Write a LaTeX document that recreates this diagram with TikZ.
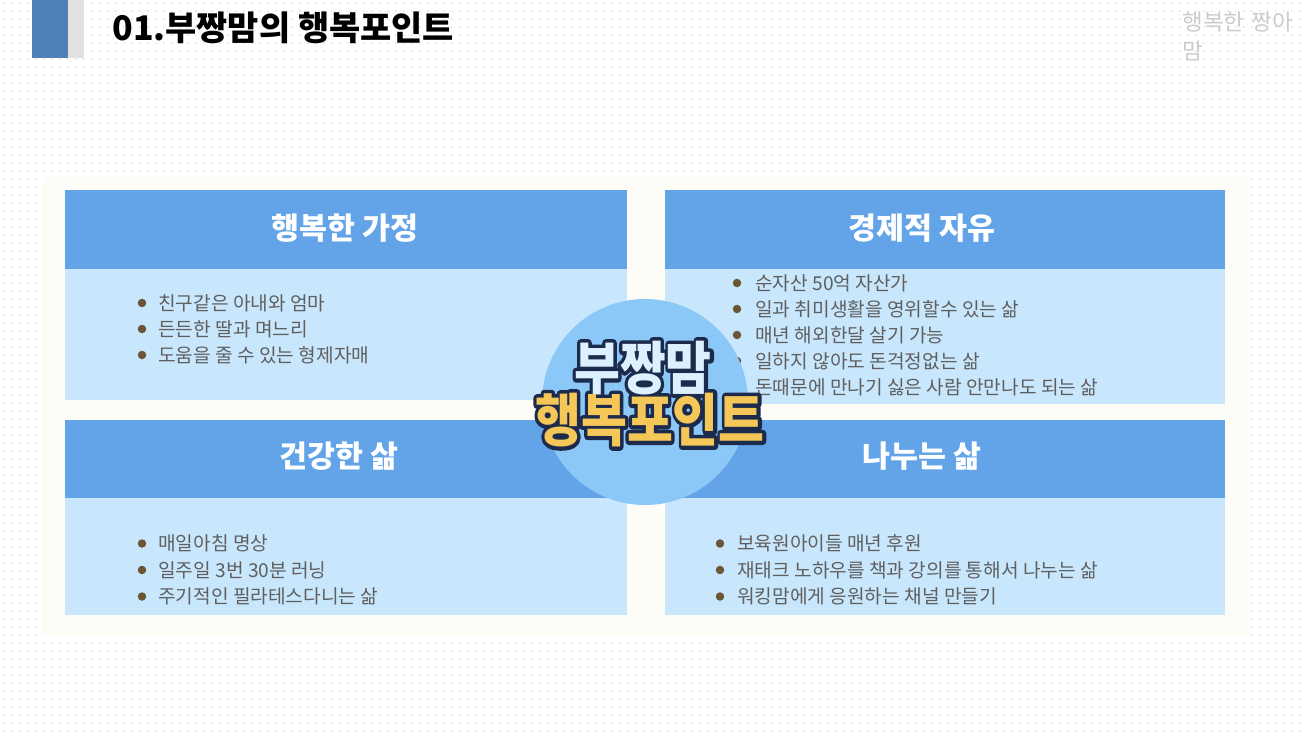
\documentclass[tikz,border=0pt]{standalone}
\usepackage{fontspec}
\setmainfont{Noto Sans CJK KR}
\usetikzlibrary{patterns.meta}

\definecolor{barblue}{HTML}{4F80BA}
\definecolor{bargray}{HTML}{E1E1E1}
\definecolor{headblue}{HTML}{63A4E9}
\definecolor{bodyblue}{HTML}{C9E7FC}
\definecolor{ringblue}{HTML}{8BC8F7}
\definecolor{paper}{HTML}{FDFCF7}
\definecolor{navy}{HTML}{1C2B4B}
\definecolor{gold}{HTML}{F4C758}
\definecolor{pale}{HTML}{DCF0FF}
\definecolor{ink}{HTML}{5F5F5F}
\definecolor{bulletbrown}{HTML}{6A5537}

\tikzdeclarepattern{name=bgdots, type=uncolored,
  bounding box={(0pt,0pt) and (4.5pt,4.5pt)}, tile size={(4.5pt,4.5pt)},
  code={\fill (2.25pt,2.25pt) circle (0.5pt);}}

% outlined lettering: stroke first, fill on top
\newcommand{\strokedword}[1]{\special{pdf:literal direct 1 Tr 3.8 w 1 j 1 J}#1\special{pdf:literal direct 0 Tr}}

\tikzset{
  headtxt/.style={text=white, font=\fontsize{17.3pt}{20pt}\selectfont\bfseries, inner sep=0pt},
  item/.style={anchor=west, text=ink, font=\fontsize{10.9pt}{13pt}\selectfont, inner sep=0pt},
  dot/.style={circle, fill=bulletbrown, inner sep=0pt, minimum size=0.17cm},
  badge/.style={inner sep=0pt, font=\fontsize{28.4pt}{32pt}\selectfont\bfseries}
}

\begin{document}
\begin{tikzpicture}[x=0.02cm,y=-0.02cm]
        \useasboundingbox (0,0) rectangle (1303,735);
        \fill[white] (0,0) rectangle (1303,735);
        \fill[pattern=bgdots, pattern color=gray!28] (0,0) rectangle (1303,735);
        % title
        \fill[barblue] (32,0) rectangle (68,58);
        \fill[bargray] (68,0) rectangle (84,58);
        \node[anchor=west, inner sep=0pt, font=\fontsize{19.3pt}{22pt}\selectfont\bfseries] (title) at (112,28) {01.부짱맘의 행복포인트};
        \node[anchor=north west, inner sep=0pt, text=gray!40, text width=2.45cm, align=left, font=\fontsize{12.8pt}{16pt}\selectfont] (corner) at (1182,12) {행복한 짱아 맘};
        % panels
        \fill[paper] (42,177) rectangle (1250,637);
        \fill[headblue] (65,190) rectangle (627,269);
        \fill[bodyblue] (65,269) rectangle (627,400);
        \fill[headblue] (665,190) rectangle (1225,269);
        \fill[bodyblue] (665,269) rectangle (1225,404);
        \fill[headblue] (65,420) rectangle (627,498);
        \fill[bodyblue] (65,498) rectangle (627,615);
        \fill[headblue] (665,420) rectangle (1225,498);
        \fill[bodyblue] (665,498) rectangle (1225,615);
        \node[headtxt] (tl-head) at (345,228) {행복한 가정};
        \node[headtxt] (tr-head) at (922,228) {경제적 자유};
        \node[headtxt] (bl-head) at (339,456) {건강한 삶};
        \node[headtxt] (br-head) at (922,456) {나누는 삶};
        \foreach \t [count=\i] in {친구같은 아내와 엄마, 든든한 딸과 며느리, 도움을 줄 수 있는 형제자매} {
            \node[dot] (tl-dot\i) at (142,{277+26*\i}) {};
            \node[item] (tl-item\i) at (158,{277+26*\i}) {\t};
        }
        \foreach \t [count=\i] in {순자산 50억 자산가, 일과 취미생활을 영위할수 있는 삶, 매년 해외한달 살기 가능, 일하지 않아도 돈걱정없는 삶, 돈때문에 만나기 싫은 사람 안만나도 되는 삶} {
            \node[dot] (tr-dot\i) at (737,{257+26*\i}) {};
            \node[item] (tr-item\i) at (755,{257+26*\i}) {\t};
        }
        \foreach \t [count=\i] in {매일아침 명상, 일주일 3번 30분 러닝, 주기적인 필라테스다니는 삶} {
            \node[dot] (bl-dot\i) at (142,{517+26.5*\i}) {};
            \node[item] (bl-item\i) at (158,{517+26.5*\i}) {\t};
        }
        \foreach \t [count=\i] in {보육원아이들 매년 후원, 재태크 노하우를 책과 강의를 통해서 나누는 삶, 워킹맘에게 응원하는 채널 만들기} {
            \node[dot] (br-dot\i) at (720,{517+26.5*\i}) {};
            \node[item] (br-item\i) at (737,{517+26.5*\i}) {\t};
        }
        % centre badge
        \fill[ringblue] (645,402) circle (103);
        \node[badge, text=navy] (top-edge) at (643,368) {\scalebox{1}[1.15]{\strokedword{부짱맘}}};
        \node[badge, text=navy] (low-edge) at (650,420) {\scalebox{1}[1.15]{\strokedword{행복포인트}}};
        \node[badge, text=pale] (top-word) at (643,368) {\scalebox{1}[1.15]{부짱맘}};
        \node[badge, text=gold] (low-word) at (650,420) {\scalebox{1}[1.15]{행복포인트}};
    \end{tikzpicture}
\end{document}
